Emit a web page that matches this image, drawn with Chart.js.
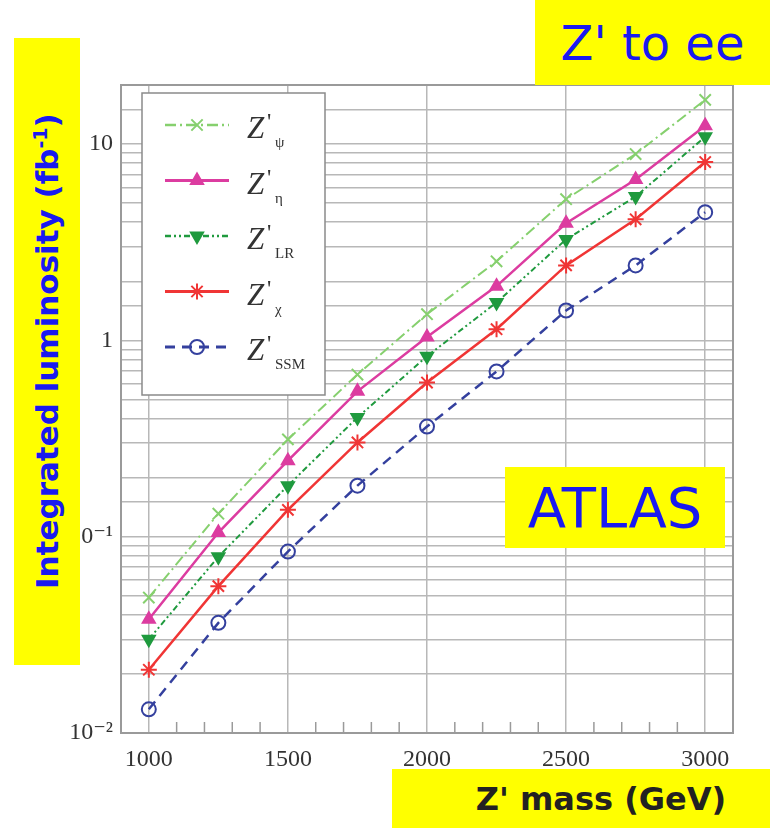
<!DOCTYPE html>
<html>
<head>
<meta charset="utf-8">
<title>Z' to ee</title>
<script src="https://cdn.jsdelivr.net/npm/chart.js@4.4.1/dist/chart.umd.min.js"></script>
<style>
  body { margin: 0; background: #fff; }
  #wrap { position: relative; width: 770px; height: 828px; overflow: hidden; }
  #wrap canvas { position: absolute; left: 0; top: 0; }
  .tag { position: absolute; background: #ffff00; font-family: "Comic Sans MS", "DejaVu Sans", sans-serif;
         display: flex; align-items: center; justify-content: center; }
  #title { left: 535px; top: 0; width: 235px; height: 85px; color: #1a1af0; font-size: 48px; }
  #atlas { left: 505px; top: 467px; width: 220px; height: 81px; color: #1a1af0; font-size: 56px; }
  #xlab { left: 392px; top: 769px; width: 378px; height: 59px; color: #222; font-size: 32px; font-weight: bold;
          box-sizing: border-box; padding-left: 40px; }
  #ylab { left: 14px; top: 38px; width: 66px; height: 627px; }
  #ylab span { flex-shrink: 0; transform: rotate(-90deg); white-space: nowrap; color: #1a1af0;
               font-weight: bold; font-size: 31px; }
  #ylab sup { font-size: 19px; }
</style>
</head>
<body>
<div id="wrap">
  <canvas id="chart" width="770" height="828"></canvas>
  <div class="tag" id="title">Z' to ee</div>
  <div class="tag" id="ylab"><span>Integrated luminosity (fb<sup>-1</sup>)</span></div>
  <div class="tag" id="atlas">ATLAS</div>
  <div class="tag" id="xlab">Z' mass (GeV)</div>
</div>
<script>
// Masse du Z' (GeV) et luminosité intégrée nécessaire (fb-1)
const masses = [1000, 1250, 1500, 1750, 2000, 2250, 2500, 2750, 3000];
const lumiPsi = [0.049, 0.131, 0.313, 0.67, 1.36, 2.53, 5.24, 8.9, 16.8];
const lumiEta = [0.038, 0.105, 0.244, 0.55, 1.04, 1.89, 3.95, 6.6, 12.4];
const lumiLR  = [0.030, 0.079, 0.182, 0.405, 0.83, 1.56, 3.27, 5.4, 10.9];
const lumiChi = [0.021, 0.056, 0.137, 0.302, 0.61, 1.14, 2.41, 4.14, 8.1];
const lumiSSM = [0.0132, 0.0364, 0.084, 0.182, 0.364, 0.695, 1.42, 2.41, 4.5];
const modelNames = ['ψ', 'η', 'LR', 'χ', 'SSM'];
const xTickLabels = [1000, 1500, 2000, 2500, 3000];
const yTickLabels = { '0.01': '10⁻²', '0.1': '10⁻¹', '1': '1', '10': '10' };

const GRID = '#b8b8b8';
const FRAME = '#9a9a9a';

function pts(values) { return values.map((v, i) => ({ x: masses[i], y: v })); }

const styles = [
  { color: '#86d06e', dash: [11, 4, 2, 4], point: 'crossRot', radius: 8, rot: 0, fill: false, width: 2 },
  { color: '#dc3ca0', dash: [], point: 'triangle', radius: 7, rot: 0, fill: true, width: 2.5 },
  { color: '#1f9a3e', dash: [6, 3, 2, 3, 2, 3], point: 'triangle', radius: 7, rot: 180, fill: true, width: 2 },
  { color: '#f03535', dash: [], point: 'star', radius: 8, rot: 0, fill: false, width: 2.5 },
  { color: '#34409e', dash: [10, 7], point: 'circle', radius: 7, rot: 0, fill: false, width: 2.5 }
];
const series = [lumiPsi, lumiEta, lumiLR, lumiChi, lumiSSM];

const datasets = series.map((vals, i) => {
  const s = styles[i];
  return {
    label: "Z'" + modelNames[i],
    data: pts(vals),
    borderColor: s.color,
    backgroundColor: s.fill ? s.color : 'rgba(0,0,0,0)',
    borderWidth: s.width,
    borderDash: s.dash,
    pointStyle: s.point,
    pointRadius: s.radius,
    pointRotation: s.rot,
    pointBorderWidth: 2,
    pointBackgroundColor: s.fill ? s.color : 'rgba(0,0,0,0)',
    pointBorderColor: s.color,
    tension: 0,
    fill: false
  };
});

// cadre + petites graduations + légende dans le graphique
const framePlugin = {
  id: 'frameLegend',
  afterDraw(chart) {
    const ctx = chart.ctx;
    const a = chart.chartArea;
    const xs = chart.scales.x;
    ctx.save();
    ctx.strokeStyle = FRAME;
    ctx.lineWidth = 1.5;
    for (let m = 1100; m < 3000; m += 100) {
      if (m % 500 === 0) continue;
      const px = xs.getPixelForValue(m);
      ctx.beginPath();
      ctx.moveTo(px, a.bottom);
      ctx.lineTo(px, a.bottom - 11);
      ctx.stroke();
    }
    ctx.lineWidth = 2;
    ctx.strokeRect(a.left, a.top, a.right - a.left, a.bottom - a.top);

    // légende
    const bx = 142, by = 93, bw = 183, bh = 302;
    ctx.fillStyle = '#fff';
    ctx.fillRect(bx, by, bw, bh);
    ctx.strokeStyle = '#8a8a8a';
    ctx.lineWidth = 1.5;
    ctx.strokeRect(bx, by, bw, bh);
    const helpers = Chart.helpers;
    chart.data.datasets.forEach((ds, i) => {
      const y = 125 + i * 55.5;
      ctx.strokeStyle = ds.borderColor;
      ctx.lineWidth = ds.borderWidth + 0.5;
      ctx.setLineDash(ds.borderDash);
      ctx.beginPath();
      ctx.moveTo(165, y);
      ctx.lineTo(229, y);
      ctx.stroke();
      ctx.setLineDash([]);
      ctx.fillStyle = ds.pointBackgroundColor;
      ctx.lineWidth = 2;
      if (helpers && helpers.drawPoint) {
        helpers.drawPoint(ctx, { pointStyle: ds.pointStyle, radius: ds.pointRadius, rotation: ds.pointRotation, borderWidth: 2 }, 197, y);
      }
      ctx.fillStyle = '#333';
      ctx.font = 'italic 31px "Liberation Serif", serif';
      ctx.textBaseline = 'alphabetic';
      ctx.fillText('Z', 247, y + 13);
      ctx.font = '24px "Liberation Serif", serif';
      ctx.fillText("'", 267, y + 4);
      ctx.font = '15px "Liberation Serif", serif';
      ctx.fillText(modelNames[i], 275, y + 22);
    });
    ctx.restore();
  }
};

new Chart(document.getElementById('chart').getContext('2d'), {
  type: 'line',
  data: { datasets },
  options: {
    responsive: false,
    animation: false,
    layout: { padding: { left: 0, right: 37, top: 85, bottom: 0 } },
    scales: {
      x: {
        type: 'linear',
        min: 900, max: 3100,
        afterFit: (s) => { s.height = 95; },
        border: { color: FRAME, width: 2 },
        grid: {
          drawTicks: false,
          lineWidth: 1.5,
          color: (c) => (c.tick && xTickLabels.includes(c.tick.value)) ? GRID : 'rgba(0,0,0,0)'
        },
        ticks: {
          stepSize: 100,
          autoSkip: false,
          maxRotation: 0,
          padding: 12,
          color: '#333',
          font: { family: '"Liberation Serif", serif', size: 24 },
          callback: (v) => xTickLabels.includes(v) ? String(v) : ''
        }
      },
      y: {
        type: 'logarithmic',
        min: 0.01, max: 20,
        afterFit: (s) => { s.width = 121; },
        border: { color: FRAME, width: 2 },
        grid: { drawTicks: false, lineWidth: 1.5, color: GRID },
        ticks: {
          autoSkip: false,
          padding: 8,
          color: '#333',
          font: { family: '"Liberation Serif", "DejaVu Serif", serif', size: 24 },
          callback: (v) => yTickLabels[String(v)] || ''
        }
      }
    },
    plugins: { legend: { display: false }, tooltip: { enabled: false } }
  },
  plugins: [framePlugin]
});
</script>
</body>
</html>
